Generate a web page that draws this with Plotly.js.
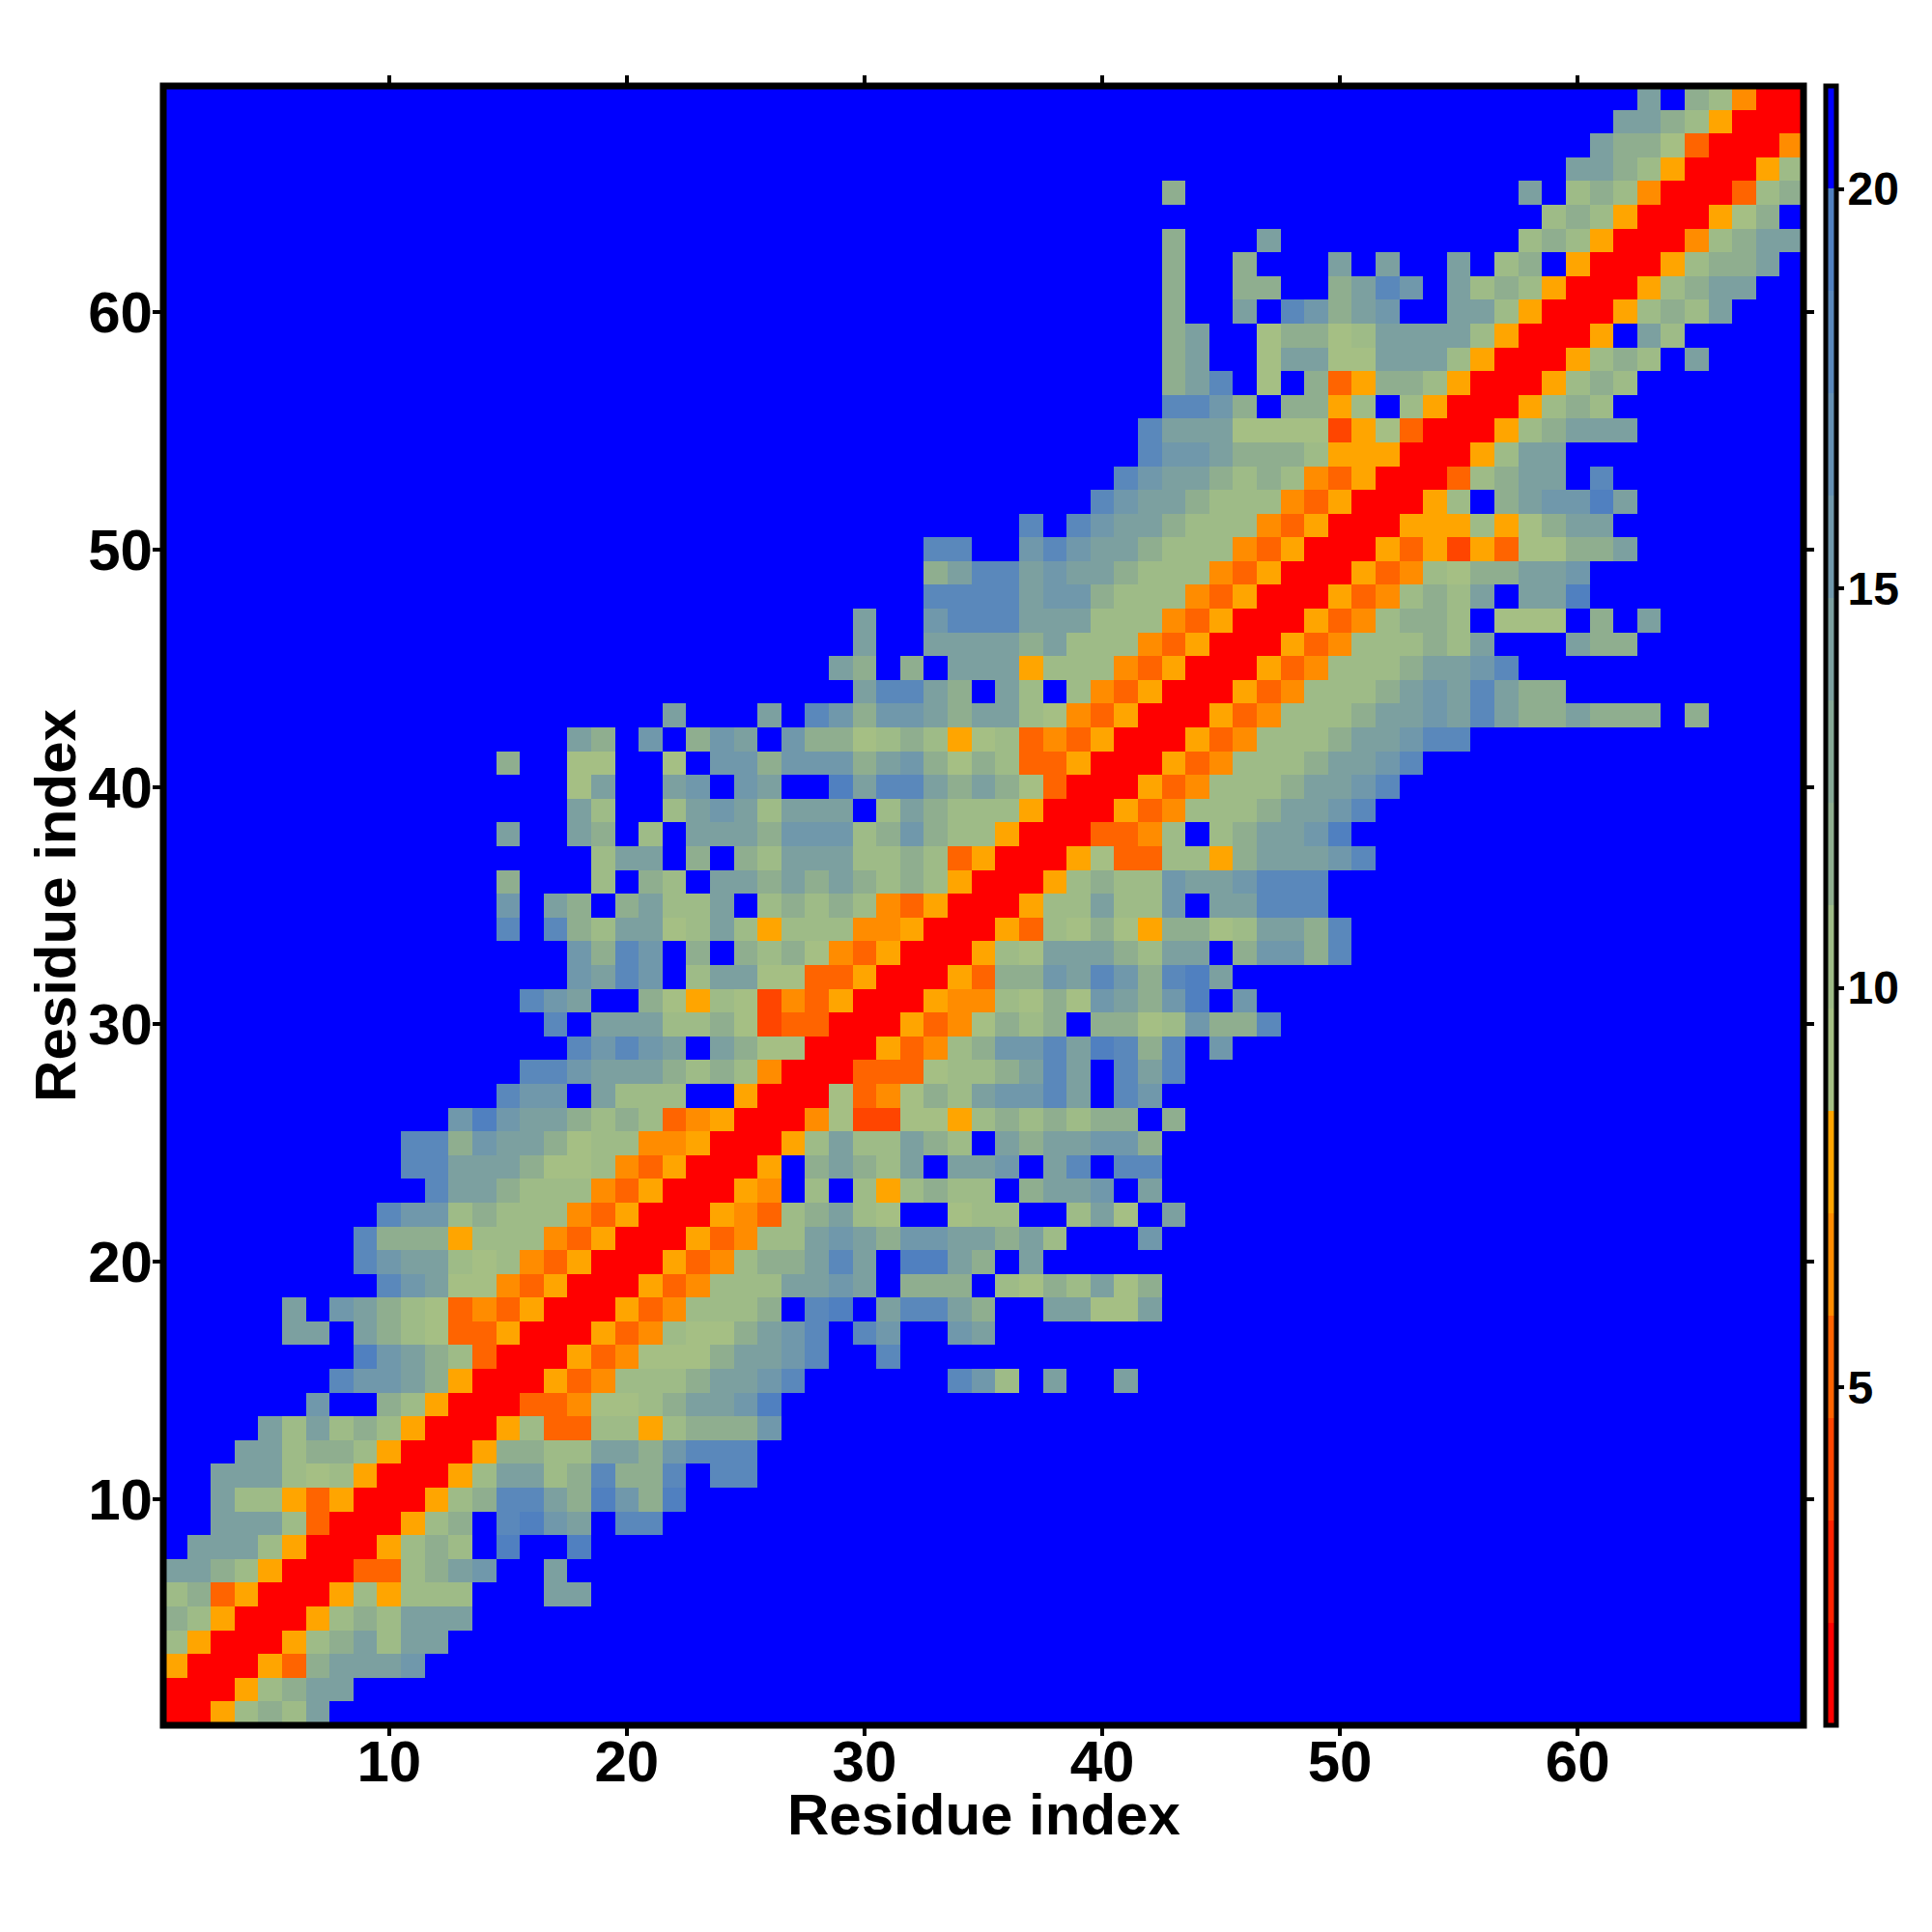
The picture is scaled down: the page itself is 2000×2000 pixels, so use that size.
<!DOCTYPE html>
<html><head><meta charset="utf-8">
<script src="https://cdn.plot.ly/plotly-3.0.1.min.js"></script>
<style>html,body{margin:0;padding:0;background:#fff}.colorbar text{translate:-6px 0}.ytitle{translate:9px 0}</style></head>
<body><div id="chart" style="width:2000px;height:2000px"></div>
<script>
// Each row (residue 1..69, bottom to top): first drawn column + one letter per cell. '.' and everything outside = blue (beyond cut-off).
const rowStarts = [1,1,1,1,1,1,1,1,3,3,3,4,5,7,8,9,6,6,10,9,9,10,12,11,11,13,15,16,18,17,16,18,18,15,15,15,19,15,18,18,15,18,22,30,29,30,30,33,33,33,37,40,41,42,42,43,43,43,43,43,43,43,43,59,43,60,61,62,63];
const rowCells = [
"RRObcbd","RRRObcdd","ORRROHcddde","bORRRObcdbdd","cbORRRObcbddd","bcHORRRObObbb...dd","ddcbORRRHHbcde..d",".dddbORRRObcb.g..g",
"dddbHRRRObc.fged.ff","dbbOHORRRObcffdcgecg","dddbabORRRObddbcfccf.ff","ddbccbORRROccbbddcefff","dbdbcbORRRObHHbbObccce",
"e..cbORRRHHDaabcddeg","feedcORRROHDbbbcddef......feb.d..d","gedcbHRRROHDaaacddef..f","dd.dcbaHHORRROHDbaacdef.fe..ed",
"d.edcbaHDHORRROHDbbbc.fg.dffdc..ddaad","fedaaDHORRROHDbbbdded.ccc.bacbdac","feddbabDHORRROHDbccdfd.ggdc.d",
"fcccObbbDHORRROHDbbdedceeddcdb...e","feebcbbbDHORRRODHbcdba..abb..bda.d","fddcbbbDHORRROD.b.bObcbb.cdde.d",
"ffdddcaabDHORRRO.cdcbd.dde.df.ff","ffceddcabbDDORRRObdbbdcb.dcddeec","egeddcbcbHDORRRDaVVaaObcbcbcc.c",
"fee.dbbb..ORRRaHDacbdeefd.fe","ffedddcbcbDRRRHHHabbcdfd.fdf","fefed.dcaaRRROHDbceefdgfcf.e",
"f.dddbbcaVHHRRROHDacbc.ccabeccf","fed..caObaVDHORRRODDbacaedceg.e","edfe.bddaaHHORRROHccedfecfgd",
"ecfe.c.cbcaDHORRRObadddcbdd.ceecf","f.fcbddabdbObbbDDORRROHbacaOccabddcf","e.dc.cdbbd.bcbcbDHORRRObbdbbe.ddfff",
"c...b.cb.ddcdcdcbcbORRRObcbbeddefff","bdd.c.cbdddbbcbHORRROaHHbbOcdddef","d..dc.b.dddceeebcecbbORRRHHDb.bcddeg",
"db..bdedbddd.bdcbbbORRROHDbbbcddef","ad..de.ed..gdffdcdcaHRRROHDbbbcddef","c..aa..a.eeceeecdecacbHHORRROHDbbbcddef",
"dc.e.ced.eccabcbOabHDHORRROHDbbbcddeff","d...d.feceedcddbaDHORRROHDbbbcddedfdccdccc.c","dffdc.db.bDHORRROHDbbbcdedfdcc",
"dc.c.dddObbbDHORRROHDbbbcddef","d..ddddcdbbbDHORRROHDbbbcbd...dcc","d..efffdddbbbDHORRROHDbccb.aaa.c.d",
"ffffdeecbbbDHORRROHDbcbd.ddg","cdffdeddcbbbDHORRROHDbaccdde","ff..efeddcbbbDHORRROHOVOHaaccd",
"f.feddcbbbDHORRROOObOacdd","feddcbbbDHORRROb.cdeegd","feddcbcbDHORRRHbcdd.f","feedcccbOOORRRObdd","fdddaaaaVOaHRRRObcddd",
"ffec.ccOb.bORRRObcb","cdf.a.cHOccbORRRObcb","cd..addaadddbORRRObcb.d","cd..accabddddbORRRO.db","c..d.fecde..ddbORRRObcbd",
"c..cc..cdfe.dbcbORRRObcdd","c..c...d.d..d.bc.ORRRObccd","c...d..........bcbORRRDbcdd","bcbORRROac","c..............d.bcbDRRRHbc",
"ddcbORRROb","dccaHRRRD","ddcbORRR","d.cbDRR"];
const cellLetters = ["R","V","H","D","O","a","b","c","d","e","f","g","."];
const cellValues  = [1.44,3.99,5.26,6.54,7.81,9.09,10.36,11.64,14.19,15.46,18.0,19.29,20.56];
const bandColors = ["#ff0000","#ff2200","#ff4500","#ff6400","#ff8c00","#ffa500","#a5bf84","#9ebb87","#8fae8f","#86a896","#7ca0a0","#7098ab","#6590b3","#5a88bb","#5080c0","#0000ff"];
const residues = Array.from({length:69},(_,i)=>i+1);
const zMin = 0.77, zMax = 21.29;
const tickVals = [10,20,30,40,50,60];
const barTicks = [5,10,15,20];

const z = residues.map((_,r)=>residues.map((_,c)=>{
  const ch = rowCells[r][c-rowStarts[r]+1];
  const k = cellLetters.indexOf(ch===undefined?".":ch);
  return cellValues[k];
}));
const colorscale=[];
bandColors.forEach((col,i)=>{colorscale.push([i/16,col]);colorscale.push([(i+1)/16,col]);});
const font={family:'"Liberation Sans",Arial,sans-serif',color:'#000',weight:700};
const axisBase={range:[0.5,69.5],tickvals:tickVals,ticks:'outside',ticklen:10,tickwidth:4,tickcolor:'#000',mirror:'allticks',
  showline:false,zeroline:false,showgrid:false,tickfont:Object.assign({},font,{size:60})};
Plotly.newPlot('chart',[{type:'heatmap',x:residues,y:residues,z:z,zmin:zMin,zmax:zMax,colorscale:colorscale,
  hoverinfo:'skip',
  colorbar:{x:1.0133,xanchor:'left',xpad:0,y:0,yanchor:'bottom',ypad:0,len:1,lenmode:'fraction',thickness:11,thicknessmode:'pixels',
    outlinewidth:5,outlinecolor:'#000',tickvals:barTicks,ticks:'outside',ticklen:6,tickwidth:4,tickcolor:'#000',
    tickfont:Object.assign({},font,{size:48})}}],
 {width:2000,height:2000,margin:{l:169,r:133,t:89,b:214},paper_bgcolor:'#fff',plot_bgcolor:'#00f',
  xaxis:Object.assign({},axisBase,{ticklabelstandoff:-25}),
  yaxis:Object.assign({},axisBase,{ticklabelstandoff:-12,title:{text:'Residue index',standoff:0,font:Object.assign({},font,{size:60})}}),
  annotations:[{text:'Residue index',xref:'paper',yref:'paper',x:0.5,y:-0.0548,xanchor:'center',yanchor:'middle',showarrow:false,font:Object.assign({},font,{size:60})}],
  shapes:[{type:'rect',xref:'paper',yref:'paper',x0:0,x1:1,y0:0,y1:1,line:{color:'#000',width:7},fillcolor:'rgba(0,0,0,0)',layer:'above'}]
 },{displayModeBar:false,staticPlot:true});
</script></body></html>
